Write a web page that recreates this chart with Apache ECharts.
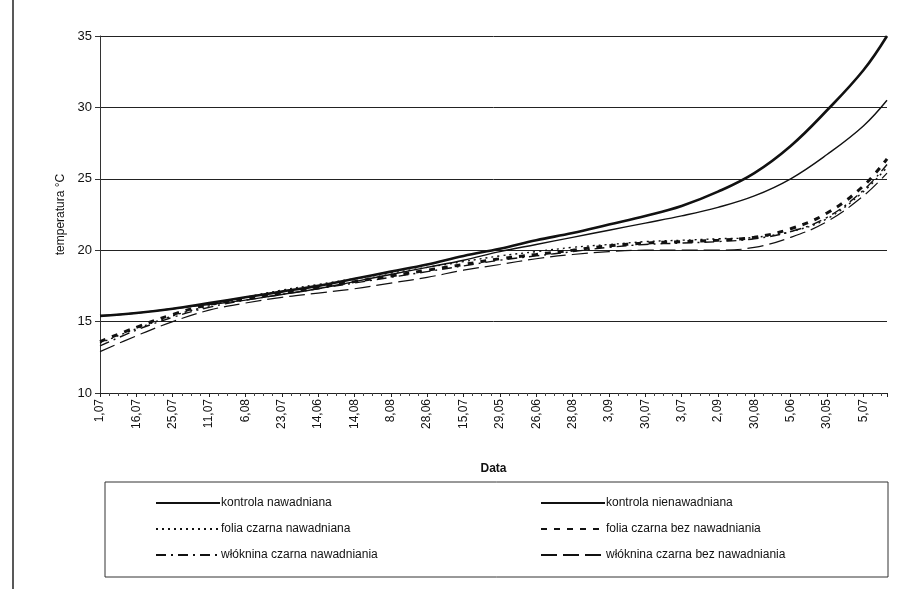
<!DOCTYPE html>
<html>
<head>
<meta charset="utf-8">
<script src="https://cdn.jsdelivr.net/npm/echarts@6/dist/echarts.min.js"></script>
<style>
  html, body { margin: 0; padding: 0; background: #fff; }
  #chart { width: 918px; height: 589px; }
</style>
</head>
<body>
<div id="chart"></div>
<script>
  // etykiety osi X (co ktorys dzien pomiaru)
  var dateLabels = ['1,07', '16,07', '25,07', '11,07', '6,08', '23,07', '14,06', '14,08', '8,08', '28,06', '15,07',
    '29,05', '26,06', '28,08', '3,09', '30,07', '3,07', '2,09', '30,08', '5,06', '30,05', '5,07']
  // pozycje punktow na osi (indeks etykiety), ostatni to koniec linii trendu
  var xPos = [0, 1, 2, 3, 4, 5, 6, 7, 8, 9, 10, 11, 12, 13, 14, 15, 16, 17, 18, 19, 20, 21, 21.65]
  var yTicks = [10, 15, 20, 25, 30, 35]

  var kontrolaNaw = [15.4, 15.6, 15.9, 16.3, 16.7, 17.1, 17.5, 18.0, 18.5, 19.0, 19.6, 20.1, 20.7, 21.2, 21.8, 22.4, 23.1, 24.1, 25.4, 27.3, 29.8, 32.6, 35.0]
  var kontrolaNienaw = [15.4, 15.6, 15.9, 16.2, 16.5, 16.9, 17.3, 17.8, 18.3, 18.8, 19.3, 19.9, 20.4, 20.9, 21.4, 21.9, 22.4, 23.0, 23.8, 25.0, 26.7, 28.7, 30.5]
  var foliaNaw = [13.5, 14.5, 15.4, 16.1, 16.7, 17.2, 17.6, 18.0, 18.4, 18.8, 19.2, 19.6, 19.9, 20.2, 20.4, 20.6, 20.7, 20.8, 20.9, 21.3, 22.2, 24.1, 25.8]
  var foliaBez = [13.6, 14.6, 15.5, 16.2, 16.6, 17.0, 17.4, 17.8, 18.2, 18.6, 19.0, 19.4, 19.7, 20.0, 20.3, 20.5, 20.6, 20.7, 20.9, 21.5, 22.6, 24.5, 26.4]
  var wlokninaNaw = [13.3, 14.4, 15.3, 16.0, 16.5, 16.9, 17.3, 17.7, 18.1, 18.5, 18.9, 19.3, 19.6, 19.9, 20.2, 20.4, 20.5, 20.6, 20.8, 21.3, 22.3, 24.2, 26.0]
  var wlokninaBez = [12.9, 14.0, 15.0, 15.8, 16.3, 16.7, 17.0, 17.3, 17.7, 18.1, 18.6, 19.0, 19.4, 19.7, 19.9, 20.0, 20.0, 20.0, 20.2, 20.9, 22.0, 23.8, 25.4]

  var font = 'Liberation Sans, Arial, sans-serif'

  function pts (vals) {
    return vals.map(function (v, i) { return [xPos[i], v] })
  }

  function line (name, vals, width, type) {
    return {
      name: name,
      type: 'line',
      data: pts(vals),
      smooth: 0.4,
      symbol: 'none',
      color: '#111',
      itemStyle: { color: '#111' },
      lineStyle: { color: '#111', width: width, type: type }
    }
  }

  var legendBase = {
    top: 492,
    orient: 'vertical',
    itemGap: 14,
    itemWidth: 64,
    itemHeight: 12,
    itemStyle: { opacity: 0 },
    textStyle: { fontFamily: font, fontSize: 12, color: '#111', padding: [0, 0, 0, -4] }
  }

  var chart = echarts.init(document.getElementById('chart'))
  var option = {
    animation: false,
    backgroundColor: '#fff',
    grid: { left: 100, right: 31, top: 36, bottom: 196 },
    xAxis: {
      type: 'value',
      min: 0,
      max: 21.65,
      interval: 1,
      name: 'Data',
      nameLocation: 'middle',
      nameGap: 70,
      nameTextStyle: { fontFamily: font, fontSize: 12, fontWeight: 'bold', color: '#111' },
      axisLine: { show: true, lineStyle: { color: '#222', width: 1 } },
      axisTick: { show: true, length: 4, lineStyle: { color: '#222' } },
      minorTick: { show: true, splitNumber: 4, length: 3, lineStyle: { color: '#444' } },
      splitLine: { show: false },
      axisLabel: {
        rotate: 90,
        fontFamily: font,
        fontSize: 12,
        color: '#111',
        margin: 6,
        formatter: function (v) {
          return Number.isInteger(v) && dateLabels[v] ? dateLabels[v] : ''
        }
      }
    },
    yAxis: {
      type: 'value',
      min: yTicks[0],
      max: yTicks[yTicks.length - 1],
      interval: 5,
      name: 'temperatura °C',
      nameLocation: 'middle',
      nameGap: 32,
      nameTextStyle: { fontFamily: font, fontSize: 12, color: '#111' },
      axisLine: { show: true, lineStyle: { color: '#333', width: 1 } },
      axisTick: { show: true, length: 5, lineStyle: { color: '#333' } },
      splitLine: { show: true, lineStyle: { color: '#222', width: 1 } },
      axisLabel: { fontFamily: font, fontSize: 13, color: '#111', margin: 8 }
    },
    legend: [
      Object.assign({}, legendBase, {
        left: 150,
        data: ['kontrola nawadniana', 'folia czarna nawadniana', 'włóknina czarna nawadniania']
      }),
      Object.assign({}, legendBase, {
        left: 535,
        data: ['kontrola nienawadniana', 'folia czarna bez nawadniania', 'włóknina czarna bez nawadniania']
      })
    ],
    graphic: [
      { type: 'rect', shape: { x: 105, y: 482, width: 783, height: 95 }, style: { fill: 'none', stroke: '#333', lineWidth: 1 } },
      { type: 'line', shape: { x1: 13, y1: 0, x2: 13, y2: 589 }, style: { stroke: '#222', lineWidth: 1.5 } }
    ],
    series: [
      line('kontrola nawadniana', kontrolaNaw, 2.6, 'solid'),
      line('kontrola nienawadniana', kontrolaNienaw, 1.4, 'solid'),
      line('folia czarna nawadniana', foliaNaw, 1.4, [2, 4]),
      line('folia czarna bez nawadniania', foliaBez, 3, [6, 7]),
      line('włóknina czarna nawadniania', wlokninaNaw, 1.4, [10, 5, 2, 5]),
      line('włóknina czarna bez nawadniania', wlokninaBez, 1.2, [16, 6])
    ]
  }
  chart.setOption(option)
</script>
</body>
</html>
